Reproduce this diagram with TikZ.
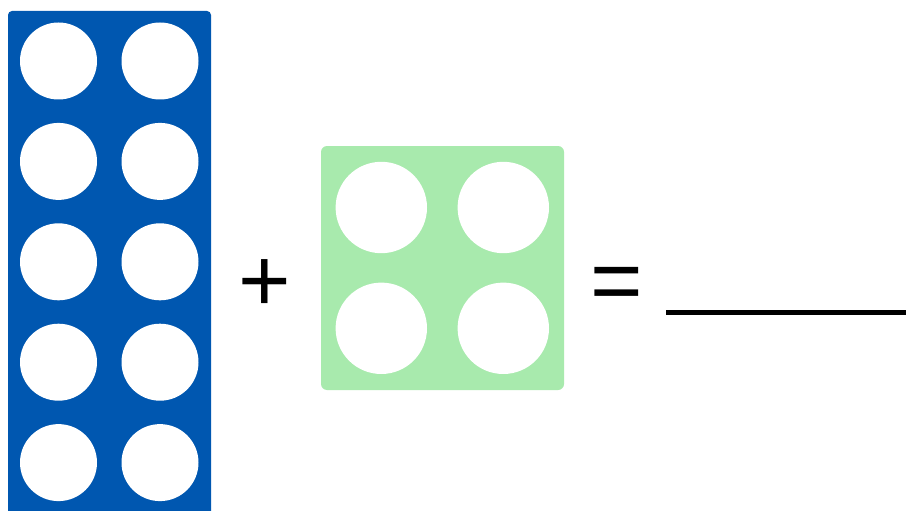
\documentclass[tikz,border=0pt]{standalone}
\usepackage{fontspec}
\setmainfont{Liberation Sans}
\definecolor{tenblue}{HTML}{0057B0}
\definecolor{fourgreen}{HTML}{A8EAAD}
\begin{document}
\begin{tikzpicture}[x=1pt,y=-1pt,
  hole/.style={fill=white},
  sym/.style={font=\fontsize{90}{90}\selectfont, inner sep=0pt, anchor=base}]
\useasboundingbox (0,0) rectangle (906,511);
\fill[white] (0,0) rectangle (906,511);
\begin{scope}
\clip (0,0) rectangle (906,511);
\fill[tenblue, rounded corners=4pt] (8,11) rectangle (211,520);
\end{scope}
\foreach \r in {0,...,4}{
  \fill[hole] (58.5,{61+100.4*\r}) circle (38.5);
  \fill[hole] (160,{61+100.4*\r}) circle (38.5);
}
\fill[fourgreen, rounded corners=6pt] (321,146) rectangle (564,390);
\foreach \cx in {381.3,503.3}{
  \foreach \cy in {207.5,328.3}{
    \fill[hole] (\cx,\cy) circle (45.7);
  }
}
\node[sym] (plus) at (265,311.5) {+};
\node[sym] (eq) at (616.3,311) {=};
\coordinate (blankL) at (666,312.5);
\coordinate (blankR) at (906,312.5);
\draw[line width=5pt] (blankL) -- (blankR);
\end{tikzpicture}
\end{document}
